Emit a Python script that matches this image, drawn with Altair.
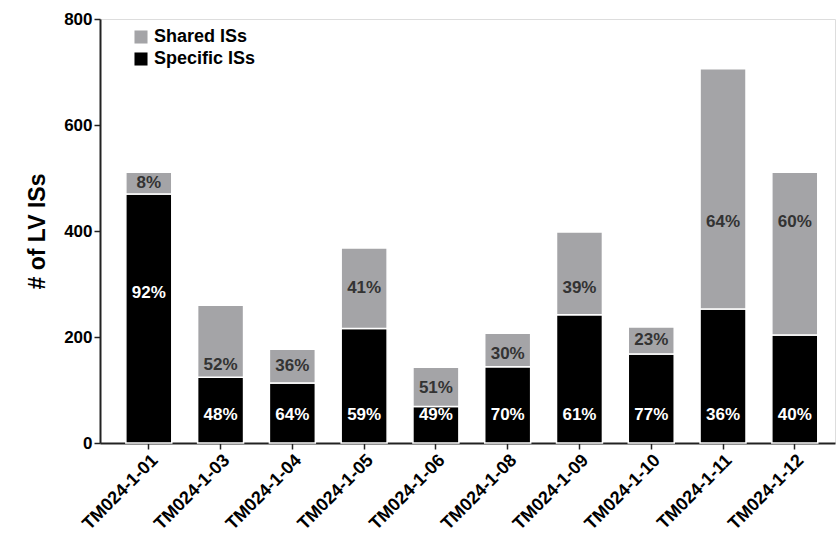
import altair as alt
import pandas as pd

samples = ["TM024-1-01", "TM024-1-03", "TM024-1-04", "TM024-1-05", "TM024-1-06",
           "TM024-1-08", "TM024-1-09", "TM024-1-10", "TM024-1-11", "TM024-1-12"]
specific = [470, 124, 113, 216, 69, 144, 242, 168, 253, 204]
shared = [41, 136, 64, 152, 74, 63, 156, 51, 453, 307]
specific_pct = ["92%", "48%", "64%", "59%", "49%", "70%", "61%", "77%", "36%", "40%"]
shared_pct = ["8%", "52%", "36%", "41%", "51%", "30%", "39%", "23%", "64%", "60%"]
# label anchor values (in data units, placed through the y scale)
specific_label_at = [283, 52, 52, 52, 52, 52, 52, 52, 52, 52]
shared_label_at = [490, 147, 145, 292, 104, 168, 292, 194, 417, 417]

rows = []
for i, s in enumerate(samples):
    rows.append({"sample": s, "type": "Specific ISs", "value": specific[i], "ord": 0,
                 "pct": specific_pct[i], "ly": specific_label_at[i]})
    rows.append({"sample": s, "type": "Shared ISs", "value": shared[i], "ord": 1,
                 "pct": shared_pct[i], "ly": shared_label_at[i]})
df = pd.DataFrame(rows)

FONT = "Liberation Sans"

x = alt.X("sample:N", sort=samples, title=None,
          scale=alt.Scale(paddingInner=0.36, paddingOuter=0.3, align=0.6),
          axis=alt.Axis(labelAngle=-45, labelAlign="right", labelBaseline="top",
                        labelFont=FONT, labelFontWeight="bold", labelFontSize=18,
                        labelColor="#000", domainColor="#222", domainWidth=2,
                        tickColor="#222", tickWidth=1.5, tickSize=6, labelPadding=2))

bars = alt.Chart(df).mark_bar(stroke="white", strokeWidth=1.5).encode(
    x=x,
    y=alt.Y("value:Q", stack="zero", title="# of LV ISs",
            scale=alt.Scale(domain=[0, 800], nice=False),
            axis=alt.Axis(values=[0, 200, 400, 600, 800], grid=False,
                          labelFont=FONT, labelFontWeight="bold", labelFontSize=17,
                          labelColor="#000", titleFont=FONT, titleFontWeight="bold",
                          titleFontSize=23, titleColor="#000", titlePadding=14,
                          domainColor="#222", domainWidth=2, tickColor="#222",
                          tickWidth=1.5, tickSize=6)),
    color=alt.Color("type:N", sort=["Shared ISs", "Specific ISs"],
                    scale=alt.Scale(domain=["Shared ISs", "Specific ISs"],
                                    range=["#a4a4a7", "#000000"]),
                    legend=alt.Legend(title=None, orient="none", legendX=32, legendY=9,
                                      symbolType="square", symbolSize=170,
                                      symbolStrokeWidth=0, labelFont=FONT,
                                      labelFontWeight="bold", labelFontSize=18,
                                      labelColor="#000", rowPadding=4)),
    order=alt.Order("ord:Q"),
)

labels = alt.Chart(df).mark_text(font=FONT, fontWeight="bold", fontSize=17,
                                 baseline="middle").encode(
    x=alt.X("sample:N", sort=samples),
    y=alt.Y("ly:Q"),
    text="pct:N",
    color=alt.Color("type:N", scale=alt.Scale(domain=["Shared ISs", "Specific ISs"],
                                               range=["#333333", "#ffffff"]),
                    legend=None),
)

chart = alt.layer(bars, labels).resolve_scale(color="independent").properties(
    width=735, height=424,
    autosize=alt.AutoSizeParams(type="none"),
    padding={"left": 100, "top": 19, "right": 3, "bottom": 99},
).configure_view(stroke=None).configure(background="white")

chart.save("out.html", embed_options={"renderer": "svg", "actions": False})
